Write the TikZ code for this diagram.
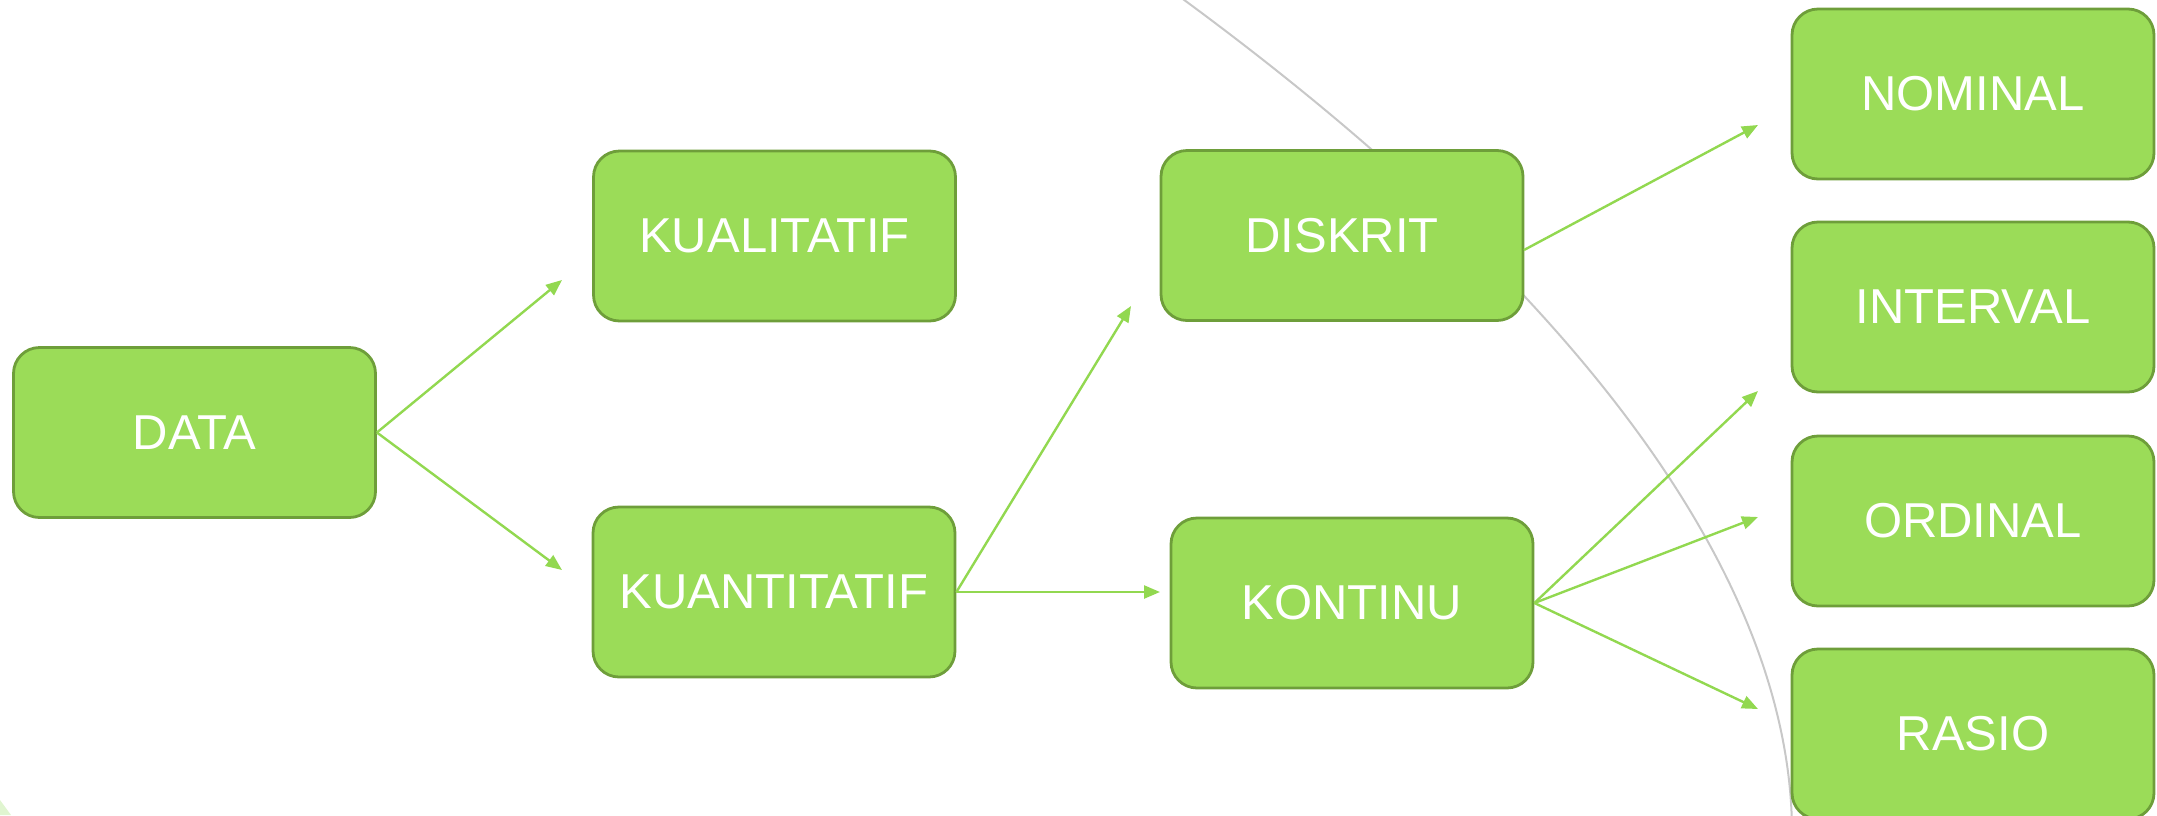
\documentclass[tikz,border=0pt]{standalone}
\usepackage{fontspec}
\setmainfont{Liberation Sans}
\usetikzlibrary{arrows.meta}
\definecolor{boxfill}{HTML}{9BDC58}
\definecolor{boxline}{HTML}{6E9E3A}
\definecolor{linkgreen}{HTML}{92D850}
\definecolor{arcgray}{HTML}{C8C8C8}
\definecolor{palegreen}{HTML}{E0F5D0}
\begin{document}
\begin{tikzpicture}[x=0.5pt, y=-0.5pt,
  catbox/.style={draw=boxline, line width=1.4pt, fill=boxfill, rounded corners=13pt,
    minimum width=181pt, minimum height=85pt, inner sep=0pt, text=white,
    font=\fontsize{24.5}{29}\selectfont},
  link/.style={draw=linkgreen, line width=1.2pt,
    -{Triangle[length=8pt, width=6.5pt]}}]
\useasboundingbox (0,0) rectangle (2157,815);
\clip (0,0) rectangle (2157,815);

% faint background arc
\draw[arcgray, line width=1pt] (1140,-32) .. controls (1550,260) and (1790,560) .. (1792,830);
\fill[palegreen] (0,800) -- (11,815) -- (0,815) -- cycle;

% categories
\node[catbox] (data)  at (194.5,432.5) {DATA};
\node[catbox] (kual)  at (774.5,236)   {KUALITATIF};
\node[catbox] (kuan)  at (774,592)     {KUANTITATIF};
\node[catbox] (disk)  at (1342,235.5)  {DISKRIT};
\node[catbox] (kont)  at (1352,603)    {KONTINU};
\node[catbox] (nom)   at (1973,94)     {NOMINAL};
\node[catbox] (intv)  at (1973,307)    {INTERVAL};
\node[catbox] (ord)   at (1973,521)    {ORDINAL};
\node[catbox] (ras)   at (1973,734)    {RASIO};

% arrow ends
\coordinate (tKual) at (562,280);
\coordinate (tKuan) at (562,570);
\coordinate (tDisk) at (1131,306);
\coordinate (tKont) at (1160,592);
\coordinate (dOut)  at (1524,250);
\coordinate (tNom)  at (1758,125);
\coordinate (tInt)  at (1758,391);
\coordinate (tOrd)  at (1758,517);
\coordinate (tRas)  at (1758,709);

\draw[link] (data.east) -- (tKual);
\draw[link] (data.east) -- (tKuan);
\draw[link] (kuan.east) -- (tDisk);
\draw[link] (kuan.east) -- (tKont);
\draw[link] (dOut) -- (tNom);
\draw[link] (kont.east) -- (tInt);
\draw[link] (kont.east) -- (tOrd);
\draw[link] (kont.east) -- (tRas);
\end{tikzpicture}
\end{document}
